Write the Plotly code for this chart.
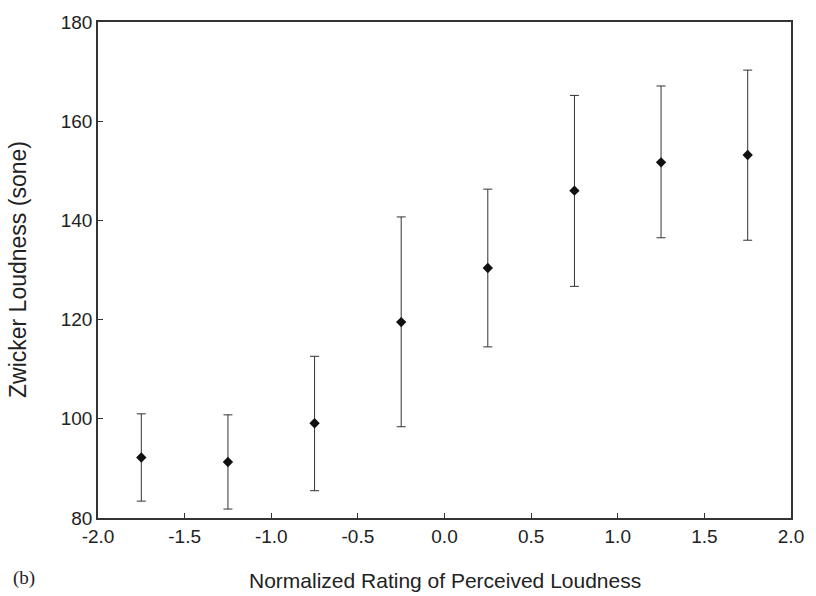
import plotly.graph_objects as go

x_rating = [-1.75, -1.25, -0.75, -0.25, 0.25, 0.75, 1.25, 1.75]
loudness_mean = [92.2, 91.3, 99.1, 119.5, 130.4, 146.0, 151.7, 153.2]
err_upper = [101.0, 100.8, 112.6, 140.7, 146.3, 165.2, 167.1, 170.3]
err_lower = [83.4, 81.8, 85.5, 98.4, 114.5, 126.7, 136.5, 136.0]

x_tickvals = [-2.0, -1.5, -1.0, -0.5, 0.0, 0.5, 1.0, 1.5, 2.0]
x_ticktext = ["-2.0", "-1.5", "-1.0", "-0.5", "0.0", "0.5", "1.0", "1.5", "2.0"]
y_tickvals = [80, 100, 120, 140, 160, 180]

plus = [u - m for u, m in zip(err_upper, loudness_mean)]
minus = [m - l for m, l in zip(loudness_mean, err_lower)]

fig = go.Figure()
fig.add_trace(go.Scatter(
    x=x_rating, y=loudness_mean, mode="markers",
    marker=dict(symbol="diamond", size=8, color="#111111"),
    error_y=dict(type="data", symmetric=False, array=plus, arrayminus=minus,
                 color="#333333", thickness=1, width=4.5),
    showlegend=False,
))

sans = "Liberation Sans, Arial, sans-serif"
tick_font = dict(family=sans, size=19, color="#222222")

fig.update_layout(
    width=816, height=596,
    margin=dict(l=98, r=20, t=18, b=78),
    paper_bgcolor="white", plot_bgcolor="white",
    font=tick_font,
    xaxis=dict(range=[-2, 2], tickvals=x_tickvals, ticktext=x_ticktext,
               ticks="inside", ticklen=5, tickcolor="#333333",
               showline=True, linecolor="#333333", linewidth=1.5, mirror=True,
               showgrid=False, zeroline=False, tickfont=tick_font),
    yaxis=dict(range=[80, 180], tickvals=y_tickvals,
               ticks="inside", ticklen=5, tickcolor="#333333",
               showline=True, linecolor="#333333", linewidth=1.5, mirror=True,
               showgrid=False, zeroline=False, tickfont=tick_font),
    annotations=[
        dict(text="Normalized Rating of Perceived Loudness", xref="paper", yref="paper",
             x=0.5, y=0, yshift=-62, xanchor="center", yanchor="middle",
             showarrow=False, font=dict(family=sans, size=21, color="#222222")),
        dict(text="Zwicker Loudness (sone)", xref="paper", yref="paper",
             x=0, xshift=-80, y=0.5, xanchor="center", yanchor="middle", textangle=-90,
             showarrow=False, font=dict(family=sans, size=23, color="#222222")),
        dict(text="(b)", xref="paper", yref="paper",
             x=0, xshift=-74, y=0, yshift=-60, xanchor="center", yanchor="middle",
             showarrow=False,
             font=dict(family="Liberation Serif, Times New Roman, serif", size=19, color="#222222")),
    ],
)

fig.write_html("out.html")
